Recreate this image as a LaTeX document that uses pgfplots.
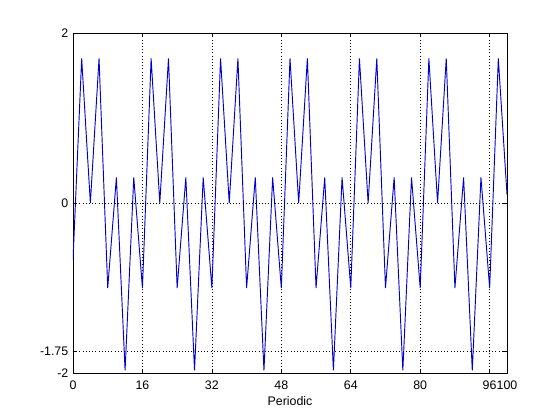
\documentclass[border=0pt]{standalone}
\usepackage{pgfplots}
\pgfplotsset{compat=1.18}
\usepackage{fontspec}
\setmainfont{Liberation Sans}
\begin{document}
\begin{tikzpicture}
\path[use as bounding box] (-54.75pt,-35.25pt) rectangle (365.25pt,279.75pt);
\begin{axis}[
  at={(0pt,0pt)}, anchor=south west,
  width=325.5pt, height=255pt, scale only axis,
  xmin=0, xmax=100, ymin=-2, ymax=2,
  xtick={0,16,32,48,64,80,96,100},
  ytick={-2,-1.75,0,2},
  yticklabels={-2,-1.75,0,2},
  /pgf/number format/assume math mode=true,
  tick label style={font=\fontsize{9.3}{11}\selectfont},
  label style={font=\fontsize{9.3}{11}\selectfont},
  xlabel={Periodic},
  xlabel style={yshift=1pt},
  tick align=inside,
  major tick length=3pt,
  xmajorgrids, ymajorgrids,
  grid style={black, dotted, line width=0.5pt},
  axis line style={black, line width=0.6pt},
  tick style={black, line width=0.5pt},
  xticklabel style={yshift=-2pt, inner xsep=0pt},
  yticklabel style={xshift=0pt},
]
\addplot[blue!80!black, line width=0.7pt] coordinates {
(0,-0.67) (2,1.7) (4,0.0) (6,1.7) (8,-1.0) (10,0.3) (12,-1.97) (14,0.3)
(16,-1.0) (18,1.7) (20,0.0) (22,1.7) (24,-1.0) (26,0.3) (28,-1.97) (30,0.3)
(32,-1.0) (34,1.7) (36,0.0) (38,1.7) (40,-1.0) (42,0.3) (44,-1.97) (46,0.3)
(48,-1.0) (50,1.7) (52,0.0) (54,1.7) (56,-1.0) (58,0.3) (60,-1.97) (62,0.3)
(64,-1.0) (66,1.7) (68,0.0) (70,1.7) (72,-1.0) (74,0.3) (76,-1.97) (78,0.3)
(80,-1.0) (82,1.7) (84,0.0) (86,1.7) (88,-1.0) (90,0.3) (92,-1.97) (94,0.3)
(96,-1.0) (98,1.7) (100,0.1)
};
\end{axis}
\end{tikzpicture}
\end{document}
